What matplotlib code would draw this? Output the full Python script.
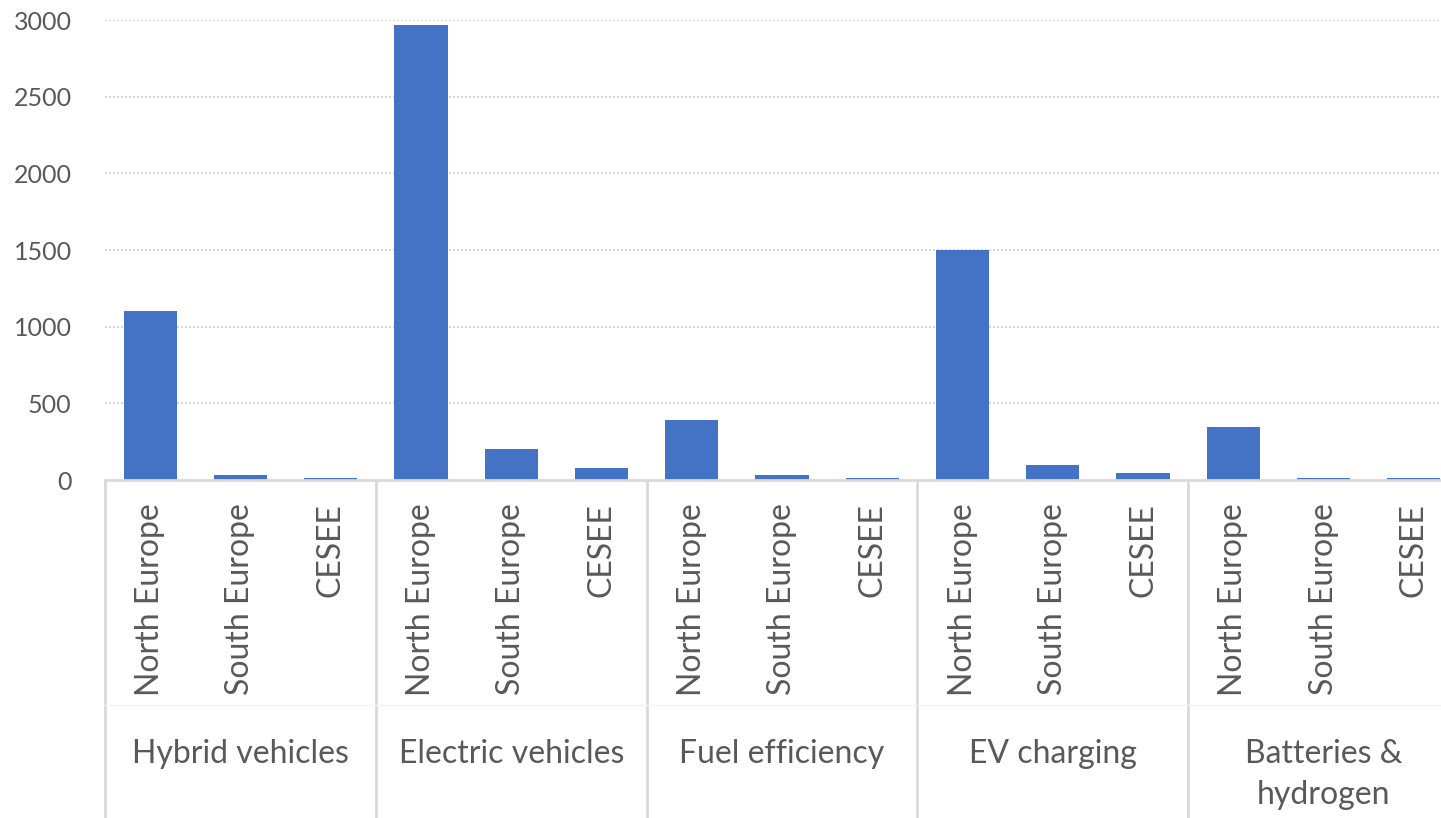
import numpy as np
import matplotlib.pyplot as plt

# Data
groups = ["Hybrid vehicles", "Electric vehicles", "Fuel efficiency", "EV charging", "Batteries &\nhydrogen"]
regions = ["North Europe", "South Europe", "CESEE"]
hybrid = [1100, 35, 10]
electric = [2970, 200, 80]
fuel_eff = [390, 33, 10]
ev_charging = [1500, 100, 45]
batteries = [345, 10, 10]

values = hybrid + electric + fuel_eff + ev_charging + batteries
labels = regions * len(groups)

plt.rcParams['font.family'] = ['Lato', 'DejaVu Sans']
text_col = '#595959'
line_col = '#d9d9d9'

W, H = 1441, 818
fig = plt.figure(figsize=(W / 100, H / 100), dpi=100)
# axes placed in pixel terms: left 105, right 1459, top 20, bottom 480
ax = fig.add_axes([105 / W, (H - 480) / H, (1459 - 105) / W, 460 / H])

x = np.arange(len(values))
ax.bar(x, values, width=0.59, color='#4472C4', zorder=2)

ax.set_xlim(-0.5, len(values) - 0.5)
ax.set_ylim(0, 3000)
ax.set_yticks(np.arange(0, 3001, 500))
ax.tick_params(axis='y', length=0, pad=24, labelsize=18, labelcolor=text_col)

ax.set_xticks(x)
ax.set_xticklabels(labels, rotation=90, fontsize=23, color=text_col)
ax.tick_params(axis='x', length=0, pad=17)

# gridlines
for v in np.arange(500, 3001, 500):
    ax.axhline(v, color='#d0d0d0', lw=1.2, ls=(0, (1.2, 1.2)), zorder=1)

for s in ['top', 'right', 'left']:
    ax.spines[s].set_visible(False)
ax.spines['bottom'].set_color(line_col)
ax.spines['bottom'].set_linewidth(2)

# group separators and labels
trans = ax.get_xaxis_transform()
bottom = (480 - H) / 460
for i in range(len(groups) + 1):
    xs = i * 3 - 0.5
    ax.plot([xs, xs], [0, bottom], color=line_col, lw=2, transform=trans, clip_on=False)
ax.plot([-0.5, len(values) - 0.5], [(480 - 705) / 460] * 2, color='#f2f2f2', lw=1,
        transform=trans, clip_on=False)
for i, g in enumerate(groups):
    ax.text(i * 3 + 1, (480 - 739) / 460, g, transform=trans, ha='center', va='top',
            fontsize=23, color=text_col, linespacing=1.45)

fig.savefig('out.png', dpi=100)
